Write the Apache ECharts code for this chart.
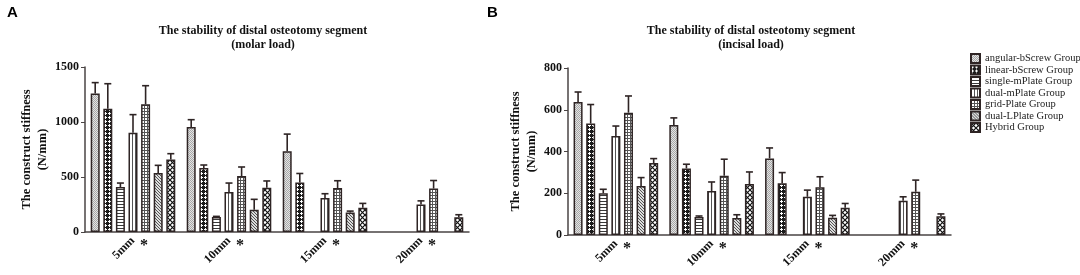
<!DOCTYPE html>
<html>
<head>
<meta charset="utf-8">
<script src="https://cdn.jsdelivr.net/npm/echarts@6/dist/echarts.min.js"></script>
<style>
  html, body { margin: 0; padding: 0; background: #fff; }
  #chart { width: 1080px; height: 275px; }
</style>
</head>
<body>
<div id="chart"></div>
<script>
// categories and groups
const categories = ["5mm", "10mm", "15mm", "20mm"];
const groupNames = [
  "angular-bScrew Group",
  "linear-bScrew Group",
  "single-mPlate Group",
  "dual-mPlate Group",
  "grid-Plate Group",
  "dual-LPlate Group",
  "Hybrid Group"
];

// molar load (panel A): mean and SD, one row per group
const molarMeans = [
  [1258, 955, 735, null],
  [1121, 582, 450, null],
  [409, 136, null, null],
  [903, 364, 308, 250],
  [1161, 509, 400, 395],
  [536, 203, 178, null],
  [658, 403, 220, 135]
];
const molarErrors = [
  [100, 66, 155, null],
  [227, 27, 82, null],
  [36, 6, null, null],
  [164, 81, 40, 33],
  [169, 82, 66, 73],
  [70, 94, 12, null],
  [54, 61, 40, 22]
];

// incisal load (panel B)
const incisalMeans = [
  [637, 527, 367, null],
  [534, 319, 248, null],
  [200, 86, null, null],
  [474, 211, 183, 164],
  [586, 284, 229, 207],
  [235, 81, 83, null],
  [345, 244, 131, 90]
];
const incisalErrors = [
  [48, 34, 50, null],
  [91, 20, 51, null],
  [19, 5, null, null],
  [48, 43, 32, 19],
  [80, 79, 50, 56],
  [40, 16, 11, null],
  [21, 58, 20, 11]
];

const molarTicks = { min: 0, max: 1500, interval: 500 };
const incisalTicks = { min: 0, max: 800, interval: 200 };

const serif = "'Liberation Serif', 'DejaVu Serif', serif";
const ink = "#2e2424";
const BAR_W = 9;
const BAR_GAP = 0.4;

function makePattern(size, draw) {
  const c = document.createElement("canvas");
  c.width = c.height = size;
  const ctx = c.getContext("2d");
  ctx.fillStyle = "#fff";
  ctx.fillRect(0, 0, size, size);
  draw(ctx, size);
  return { image: c, repeat: "repeat" };
}

const patterns = [
  // fine stipple
  makePattern(2, (ctx) => {
    ctx.fillStyle = "#e4e4e4";
    ctx.fillRect(0, 0, 2, 2);
    ctx.fillStyle = "#a8a8a8";
    ctx.fillRect(0, 0, 1, 1);
    ctx.fillRect(1, 1, 1, 1);
  }),
  // dark checker
  makePattern(4, (ctx) => {
    ctx.fillStyle = "#1c1c1c";
    ctx.fillRect(0, 0, 4, 4);
    ctx.fillStyle = "#fff";
    ctx.fillRect(1, 0, 1, 1);
    ctx.fillRect(0, 1, 3, 1);
    ctx.fillRect(1, 2, 1, 1);
  }),
  // horizontal lines
  makePattern(3, (ctx) => {
    ctx.fillStyle = "#3a3a3a";
    ctx.fillRect(0, 0, 3, 1);
  }),
  // vertical lines
  makePattern(3, (ctx) => {
    ctx.fillStyle = "#555";
    ctx.fillRect(0, 0, 1, 3);
  }),
  // grid
  makePattern(3, (ctx) => {
    ctx.fillStyle = "#555";
    ctx.fillRect(0, 0, 3, 1);
    ctx.fillRect(0, 0, 1, 3);
  }),
  // diagonal lines
  makePattern(3, (ctx) => {
    ctx.fillStyle = "#ddd";
    ctx.fillRect(0, 0, 3, 3);
    ctx.fillStyle = "#555";
    ctx.fillRect(0, 0, 1, 1);
    ctx.fillRect(1, 1, 1, 1);
    ctx.fillRect(2, 2, 1, 1);
  }),
  // open cross-hatch
  makePattern(5, (ctx) => {
    ctx.strokeStyle = "#111";
    ctx.lineWidth = 1.2;
    ctx.beginPath();
    ctx.moveTo(0, 0); ctx.lineTo(5, 5);
    ctx.moveTo(5, 0); ctx.lineTo(0, 5);
    ctx.stroke();
  })
];

function axisPair(g, ticks, nameGap) {
  const xMain = {
    type: "category",
    gridIndex: g,
    data: categories,
    axisLine: { lineStyle: { color: "#4a4444", width: 1.5 } },
    axisTick: { alignWithLabel: true, length: 3, lineStyle: { color: "#4a4444", width: 1 } },
    axisLabel: {
      interval: 0,
      rotate: 45,
      margin: 7,
      color: "#111",
      fontFamily: serif,
      fontWeight: "bold",
      fontSize: 12
    }
  };
  const xStar = {
    type: "category",
    gridIndex: g,
    data: categories,
    position: "bottom",
    offset: 0,
    axisLine: { show: false },
    axisTick: { show: false },
    axisLabel: {
      interval: 0,
      formatter: () => "*",
      align: "left",
      padding: [0, 0, 0, 7],
      margin: 6,
      color: "#111",
      fontFamily: serif,
      fontWeight: "bold",
      fontSize: 16
    }
  };
  const y = {
    type: "value",
    gridIndex: g,
    min: ticks.min,
    max: ticks.max,
    interval: ticks.interval,
    name: "The construct stiffness\n(N/mm)",
    nameLocation: "middle",
    nameRotate: 90,
    nameGap: nameGap,
    nameTextStyle: {
      color: "#111",
      fontFamily: serif,
      fontWeight: "bold",
      fontSize: 12.5,
      lineHeight: 16
    },
    splitLine: { show: false },
    axisLine: { show: true, lineStyle: { color: "#4a4444", width: 1.5 } },
    axisTick: { show: true, length: 4, lineStyle: { color: "#4a4444", width: 1 } },
    axisLabel: {
      margin: 6,
      formatter: (v) => String(v),
      color: "#111",
      fontFamily: serif,
      fontWeight: "bold",
      fontSize: 12
    }
  };
  return { x: [xMain, xStar], y: y };
}

const axA = axisPair(0, molarTicks, 33);
const axB = axisPair(1, incisalTicks, 26);

function buildSeries(g, means, errors) {
  const out = [];
  const xIdx = g * 2;
  means.forEach((row, i) => {
    out.push({
      name: groupNames[i],
      type: "bar",
      xAxisIndex: xIdx,
      yAxisIndex: g,
      barWidth: BAR_W,
      barGap: BAR_GAP * 100 + "%",
      data: row,
      itemStyle: { color: patterns[i], borderColor: ink, borderWidth: 1.5 },
      emphasis: { disabled: true }
    });
  });
  means.forEach((row, i) => {
    const pts = [];
    row.forEach((v, k) => {
      if (v != null) pts.push([k, v, errors[i][k]]);
    });
    const dx = (i - 3) * BAR_W * (1 + BAR_GAP);
    out.push({
      type: "custom",
      xAxisIndex: xIdx,
      yAxisIndex: g,
      z: 5,
      silent: true,
      data: pts,
      renderItem: (params, api) => {
        const base = api.coord([api.value(0), api.value(1)]);
        const top = api.coord([api.value(0), api.value(1) + api.value(2)]);
        const x = base[0] + dx;
        const style = { stroke: ink, lineWidth: 1.6 };
        return {
          type: "group",
          children: [
            { type: "line", shape: { x1: x, y1: base[1], x2: x, y2: top[1] }, style: style },
            { type: "line", shape: { x1: x - 3.5, y1: top[1], x2: x + 3.5, y2: top[1] }, style: style }
          ]
        };
      }
    });
  });
  return out;
}

const chart = echarts.init(document.getElementById("chart"));
chart.setOption({
  animation: false,
  backgroundColor: "#fff",
  title: [
    { text: "A", left: 2, top: 0, textStyle: { fontFamily: "'Liberation Sans', Arial, sans-serif", fontWeight: "bold", fontSize: 15, color: "#000" } },
    { text: "B", left: 482, top: 0, textStyle: { fontFamily: "'Liberation Sans', Arial, sans-serif", fontWeight: "bold", fontSize: 15, color: "#000" } },
    {
      text: "The stability of distal osteotomy segment\n(molar load)",
      left: 258, top: 19, textAlign: "center",
      textStyle: { fontFamily: serif, fontWeight: "bold", fontSize: 12, lineHeight: 14, color: "#111" }
    },
    {
      text: "The stability of distal osteotomy segment\n(incisal load)",
      left: 746, top: 19, textAlign: "center",
      textStyle: { fontFamily: serif, fontWeight: "bold", fontSize: 12, lineHeight: 14, color: "#111" }
    }
  ],
  legend: {
    orient: "vertical",
    left: 965,
    top: 48,
    icon: "rect",
    itemWidth: 9,
    itemHeight: 9,
    itemGap: 0.5,
    data: groupNames,
    selectedMode: false,
    textStyle: { fontFamily: serif, fontSize: 10.5, lineHeight: 11, color: "#222", padding: [0, 0, 0, 0] }
  },
  grid: [
    { left: 85, top: 67, width: 384, height: 165 },
    { left: 568, top: 68, width: 383, height: 167 }
  ],
  xAxis: axA.x.concat(axB.x),
  yAxis: [axA.y, axB.y],
  series: buildSeries(0, molarMeans, molarErrors).concat(buildSeries(1, incisalMeans, incisalErrors))
});
</script>
</body>
</html>
